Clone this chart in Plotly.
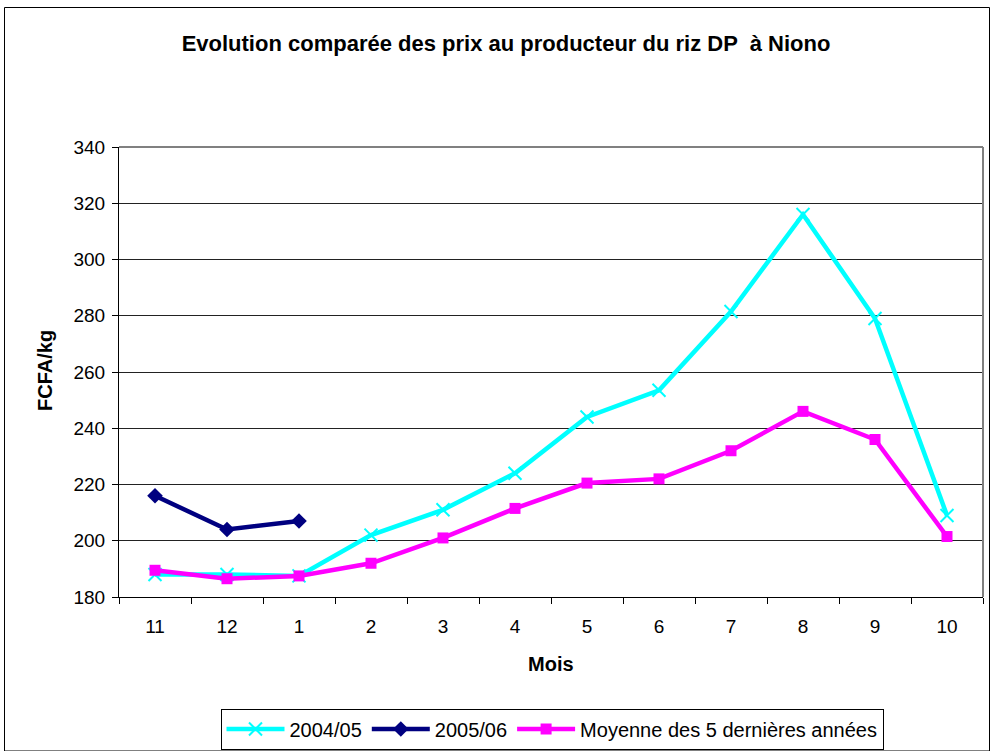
import plotly.graph_objects as go

months = ["11", "12", "1", "2", "3", "4", "5", "6", "7", "8", "9", "10"]
y2004 = [188, 188, 187.5, 202, 211, 224, 244, 253.5, 281.5, 316, 279, 209]
y2005 = [216, 204, 207]
moyenne = [189.5, 186.5, 187.5, 192, 201, 211.5, 220.5, 222, 232, 246, 236, 201.5]

W, H = 992, 751
L, R, T, B = 119, 983, 147, 597

def px(x):
    return (x - L) / (R - L)

def py(y):
    return (B - y) / (B - T)

fig = go.Figure()
fig.add_trace(go.Scatter(x=months, y=y2004, name="2004/05", mode="lines+markers",
                         line=dict(color="#00FFFF", width=4.5),
                         marker=dict(symbol="x-thin", size=13, line=dict(color="#00FFFF", width=2))))
fig.add_trace(go.Scatter(x=months[:len(y2005)], y=y2005, name="2005/06", mode="lines+markers",
                         line=dict(color="#000080", width=4.5),
                         marker=dict(symbol="diamond", size=12, color="#000080")))
fig.add_trace(go.Scatter(x=months, y=moyenne, name="Moyenne des 5 dernières années", mode="lines+markers",
                         line=dict(color="#FF00FF", width=4.5),
                         marker=dict(symbol="square", size=11, color="#FF00FF")))

fig.update_layout(
    width=W, height=H,
    margin=dict(l=L, r=W - R, t=T, b=H - B, autoexpand=False),
    paper_bgcolor="white", plot_bgcolor="white",
    font=dict(family="Liberation Sans, Arial, sans-serif", color="black", size=19),
    title=dict(text="<b>Evolution comparée des prix au producteur du riz DP  à Niono</b>",
               x=506 / W, xanchor="center", y=1 - 43 / H, yanchor="middle",
               font=dict(size=22)),
    xaxis=dict(type="category", range=[-0.5, len(months) - 0.5], tickson="boundaries",
               ticks="outside", ticklen=6, ticklabelstandoff=12,
               tickcolor="black", showline=True, linecolor="black", linewidth=1,
               showgrid=False, tickfont=dict(size=19)),
    yaxis=dict(range=[180, 340], dtick=20, ticks="outside", ticklen=6, tickcolor="black",
               ticklabelstandoff=3,
               showline=True, linecolor="black", linewidth=1,
               showgrid=True, gridcolor="#222222", gridwidth=1,
               tickfont=dict(size=19), zeroline=False),
    showlegend=True,
    legend=dict(orientation="h", xref="container", yref="container",
                x=552 / W, xanchor="center", y=1 - 729 / H, yanchor="middle",
                bordercolor="black", borderwidth=1, bgcolor="white",
                font=dict(size=20), itemwidth=58, tracegroupgap=0),
    annotations=[
        dict(text="<b>Mois</b>", xref="paper", yref="paper", x=px(551), y=py(664),
             xanchor="center", yanchor="middle", showarrow=False, font=dict(size=20)),
        dict(text="<b>FCFA/kg</b>", xref="paper", yref="paper", x=px(45), y=py(371),
             xanchor="center", yanchor="middle", showarrow=False, textangle=-90,
             font=dict(size=20)),
    ],
)

# plot-area top and right borders (gray)
fig.add_shape(type="line", xref="paper", yref="paper", x0=0, x1=1, y0=1, y1=1,
              line=dict(color="#808080", width=2))
fig.add_shape(type="line", xref="paper", yref="paper", x0=1, x1=1, y0=0, y1=1,
              line=dict(color="#808080", width=2))
# outer chart border
fig.add_shape(type="rect", xref="paper", yref="paper",
              x0=px(4.5), x1=px(989.5), y0=py(751), y1=py(7.5),
              line=dict(color="black", width=1), layer="below")

fig.write_html("out.html", config={"displayModeBar": False},
               post_script="document.body.style.margin='0';document.documentElement.style.overflow='hidden';")
